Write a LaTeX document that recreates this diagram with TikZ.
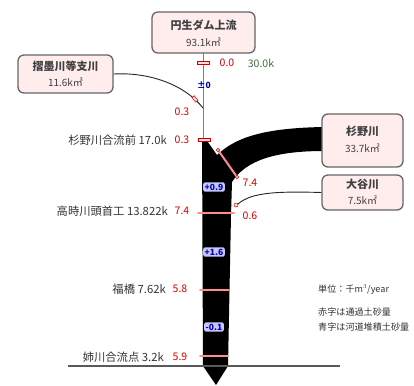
\documentclass[tikz,border=0pt]{standalone}
\usepackage{fontspec}
\setmainfont{Noto Sans CJK JP}
\begin{document}
\begin{tikzpicture}[x=1pt,y=-1pt,
  areabox/.style={draw=gray!80!black,line width=1.3pt,fill=pink!30!white,rounded corners=6pt,inner sep=0pt},
  boxtxt/.style={font=\fontsize{11}{12}\selectfont\bfseries,text=black!75},
  areatxt/.style={font=\fontsize{10}{11}\selectfont,text=black!75},
  lab/.style={font=\fontsize{11.3}{12}\selectfont,text=black!80,anchor=east,inner sep=0pt},
  rednum/.style={font=\fontsize{10.5}{11}\selectfont,text=red!85!black,inner sep=0pt},
  bluenum/.style={font=\fontsize{8.5}{9}\selectfont\bfseries,text=blue!70!black,fill=blue!22!white,rounded corners=2pt,inner sep=1.5pt},
  legend/.style={font=\fontsize{9.1}{11}\selectfont,text=black!80,anchor=west,inner sep=0pt},
  cross/.style={draw=red!45!white,line width=2pt,line cap=round},
  tick/.style={draw=red!80!black,fill=pink!60!white,line width=0.5pt},
  thin/.style={draw=black!85,line width=0.9pt}]
\useasboundingbox (0,0) rectangle (414,385);
\clip (0,0) rectangle (414,385);

% river body
\fill[black] (202,138) -- (205,138) -- (217,155)
  .. controls (235,138) and (262,128) .. (324,127) -- (324,151)
  .. controls (276,151) and (246,160) .. (232,182)
  -- (231,215) -- (228,366) -- (216,385) -- (203,366) -- cycle;

% upstream thin line
\coordinate (damfoot) at (203,53);
\coordinate (riverhead) at (203,139);
\draw[gray,line width=0.6pt] (damfoot) -- (riverhead);

% boxes
\node[areabox,minimum width=103pt,minimum height=41pt] (dam) at (203.5,32.5) {};
\node[boxtxt] (damt) at (203.5,25.5) {円生ダム上流};
\node[areatxt] (dama) at (203.5,42) {93.1k㎡};

\node[areabox,minimum width=95pt,minimum height=38pt] (trib) at (65.5,74) {};
\node[boxtxt] (tribt) at (65.5,66.5) {摺墨川等支川};
\node[areatxt] (triba) at (65.5,82) {11.6k㎡};

\node[areabox,minimum width=81pt,minimum height=53pt] (sugi) at (362.5,140.5) {};
\node[boxtxt] (sugit) at (362.5,131.5) {杉野川};
\node[areatxt] (sugia) at (362.5,148) {33.7k㎡};

\node[areabox,minimum width=81pt,minimum height=35pt] (otani) at (362.5,192.5) {};
\node[boxtxt] (otanit) at (362.5,184.5) {大谷川};
\node[areatxt] (otania) at (362.5,200) {7.5k㎡};

% tributary line from left box
\coordinate (tribin) at (203,108);
\draw[thin] (trib.east) .. controls (150,72) and (185,85) .. (tribin);
\draw[tick,rotate around={-50:(195,99)}] (192,97.5) rectangle (198,100.5);
\node[rednum] (r03a) at (182,112) {0.3};

% otani line
\coordinate (otin) at (236,206);
\draw[thin] (otani.west) .. controls (272,191) and (248,193) .. (otin);
\draw[tick] (236,205) circle (2pt);
\node[rednum] (r06) at (250,216) {0.6};

% top markers
\draw[tick] (197.5,61.5) rectangle (209.5,64.5);
\node[rednum] (r00) at (227,63) {0.0};
\node[font=\fontsize{10.5}{11}\selectfont,text=green!25!black!75,inner sep=0pt] (k30) at (261,63) {30.0k};
\node[bluenum,fill=none] (b0) at (204,85) {±0};

% station labels
\draw[tick] (198,138.5) rectangle (210,141.5);
\node[lab] (s17) at (167,140) {杉野川合流前 17.0k};
\node[rednum] (r03) at (182,140) {0.3};

\node[lab] (s13) at (168,211) {高時川頭首工 13.822k};
\node[rednum] (r74) at (182,211) {7.4};
\draw[cross] (198,213) -- (234,213);

\node[lab] (s7) at (166,289) {福橋 7.62k};
\node[rednum] (r58) at (180,289) {5.8};
\draw[cross] (200,290) -- (229,290);

\node[lab] (s3) at (164,357) {姉川合流点 3.2k};
\node[rednum] (r59) at (180,357) {5.9};
\draw[cross] (200,356) -- (228,356);
\coordinate (baseL) at (68,366);
\coordinate (baseR) at (340,366);
\draw[black!65,line width=1.4pt] (baseL) -- (baseR);

% sugino crossing
\draw[cross] (218,150) -- (237,177);
\draw[tick] (218,150) circle (1.8pt);
\draw[tick] (237,177) circle (1.8pt);
\node[rednum] (r74b) at (250,183) {7.4};

% deposition numbers
\node[bluenum] (b1) at (214,187) {+0.9};
\node[bluenum] (b2) at (214,252) {+1.6};
\node[bluenum] (b3) at (214,327) {-0.1};

% legend
\node[legend] (unit) at (318,290) {単位：千m$^3$/year};
\node[legend] (red) at (318,312) {赤字は通過土砂量};
\node[legend] (blue) at (318,327) {青字は河道堆積土砂量};
\end{tikzpicture}
\end{document}
